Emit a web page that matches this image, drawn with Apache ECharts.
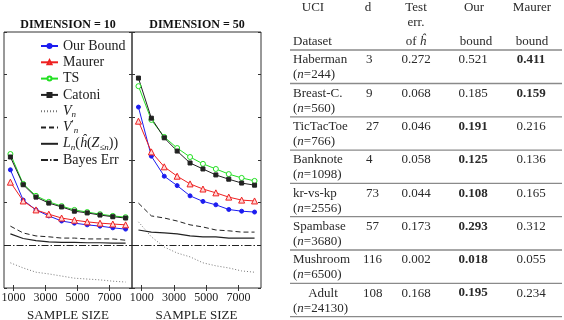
<!DOCTYPE html>
<html>
<head>
<meta charset="utf-8">
<script src="https://cdn.jsdelivr.net/npm/echarts@6/dist/echarts.min.js"></script>
<style>
  html, body { margin: 0; padding: 0; background: #fff; }
  #chart { width: 564px; height: 320px; }
</style>
</head>
<body>
<div id="chart"></div>
<script>
const sampleSizes = [800, 1600, 2400, 3200, 4000, 4800, 5600, 6400, 7200, 8000]
const xTicks = [1000, 3000, 5000, 7000]

// DIMENSION = 10
const ourBound10 = [2.77, 2.06, 1.83, 1.69, 1.57, 1.52, 1.48, 1.45, 1.41, 1.38]
const maurer10 = [2.48, 2.04, 1.83, 1.73, 1.64, 1.59, 1.55, 1.52, 1.50, 1.48]
const ts10 = [3.14, 2.44, 2.16, 2.02, 1.92, 1.83, 1.78, 1.73, 1.69, 1.66]
const catoni10 = [3.07, 2.42, 2.13, 1.99, 1.90, 1.80, 1.76, 1.71, 1.67, 1.64]
const vn10 = [0.59, 0.47, 0.37, 0.33, 0.28, 0.23, 0.21, 0.19, 0.16, 0.14]
const vnPrime10 = [1.45, 1.29, 1.22, 1.20, 1.17, 1.17, 1.15, 1.15, 1.15, 1.12]
const ln10 = [1.27, 1.16, 1.11, 1.08, 1.07, 1.07, 1.06, 1.06, 1.05, 1.05]
const bayes10 = 1.0

// DIMENSION = 50
const ourBound50 = [4.24, 3.09, 2.62, 2.40, 2.16, 2.03, 1.95, 1.84, 1.80, 1.78]
const maurer50 = [3.91, 3.19, 2.84, 2.62, 2.44, 2.32, 2.23, 2.13, 2.06, 2.04]
const ts50 = [4.73, 3.94, 3.54, 3.28, 3.07, 2.91, 2.79, 2.67, 2.58, 2.51]
const catoni50 = [4.92, 3.98, 3.52, 3.21, 2.93, 2.79, 2.65, 2.55, 2.46, 2.41]
const vn50 = [1.55, 1.20, 0.96, 0.82, 0.73, 0.59, 0.52, 0.47, 0.40, 0.37]
const vnPrime50 = [1.99, 1.69, 1.64, 1.57, 1.48, 1.43, 1.36, 1.34, 1.31, 1.31]
const ln50 = [1.36, 1.31, 1.29, 1.27, 1.22, 1.20, 1.20, 1.17, 1.17, 1.17]
const bayes50 = 1.0

// table
const datasets = ['Haberman', 'Breast-C.', 'TicTacToe', 'Banknote', 'kr-vs-kp', 'Spambase', 'Mushroom', 'Adult']
const sizes = [244, 560, 766, 1098, 2556, 3680, 6500, 24130]
const dims = [3, 9, 27, 4, 73, 57, 116, 108]
const testErr = ['0.272', '0.068', '0.046', '0.058', '0.044', '0.173', '0.002', '0.168']
const ourBoundTab = ['0.521', '0.185', '0.191', '0.125', '0.108', '0.293', '0.018', '0.195']
const maurerTab = ['0.411', '0.159', '0.216', '0.136', '0.165', '0.312', '0.055', '0.234']

const serif = '"Liberation Serif", "Times New Roman", "DejaVu Serif", serif'
const ink = '#222'
const tableInk = '#2a2a2a'
const clear = 'rgba(0,0,0,0)'

const styles = {
  'Our Bound': { color: '#1c1cf0', symbol: 'circle', symbolSize: 4, lineStyle: { color: '#1c1cf0', width: 1 } },
  'Maurer': { color: '#ffd6d6', borderColor: '#ee2020', symbol: 'triangle', symbolSize: 6, lineStyle: { color: '#ee2020', width: 1 } },
  'TS': { color: '#ffffff', borderColor: '#22e022', symbol: 'circle', symbolSize: 5, lineStyle: { color: '#22e022', width: 1 } },
  'Catoni': { color: '#222', symbol: 'rect', symbolSize: 4, lineStyle: { color: '#222', width: 1 } },
  'Vn': { symbol: 'none', lineStyle: { color: '#777', width: 1, type: [1, 2] } },
  "V'n": { symbol: 'none', lineStyle: { color: '#222', width: 1, type: [5, 3] } },
  'Ln': { symbol: 'none', lineStyle: { color: '#222', width: 1.2 } }
}

const pair = (ys) => sampleSizes.map((x, i) => [x, ys[i]])

function lineSeries(name, ys, g) {
  const s = styles[name]
  const noSym = s.symbol === 'none'
  return {
    type: 'line',
    name: name,
    xAxisIndex: g * 2,
    yAxisIndex: g * 2,
    data: pair(ys),
    symbol: s.symbol,
    symbolSize: s.symbolSize,
    showSymbol: !noSym,
    itemStyle: noSym
      ? { color: clear, borderColor: clear, borderWidth: 0, opacity: 0 }
      : { color: s.color, borderColor: s.borderColor || s.color, borderWidth: 1 },
    lineStyle: s.lineStyle,
    silent: true,
    animation: false
  }
}

function bayesSeries(value, g) {
  const ls = { color: '#222', width: 1, type: [7, 2, 1.5, 2] }
  return {
    type: 'line',
    name: 'Bayes Err',
    xAxisIndex: g * 2,
    yAxisIndex: g * 2,
    data: [],
    symbol: 'none',
    itemStyle: { color: clear, borderColor: clear, borderWidth: 0, opacity: 0 },
    lineStyle: ls,
    markLine: {
      silent: true,
      symbol: 'none',
      label: { show: false },
      lineStyle: ls,
      data: [{ yAxis: value }]
    },
    animation: false
  }
}

const panels = [
  [ourBound10, maurer10, ts10, catoni10, vn10, vnPrime10, ln10, bayes10],
  [ourBound50, maurer50, ts50, catoni50, vn50, vnPrime50, ln50, bayes50]
]
const names = ['Our Bound', 'Maurer', 'TS', 'Catoni', 'Vn', "V'n", 'Ln']

const series = []
panels.forEach((p, g) => {
  names.forEach((n, k) => series.push(lineSeries(n, p[k], g)))
  series.push(bayesSeries(p[7], g))
})

const grids = [
  { left: 4, top: 32, width: 128, height: 256 },
  { left: 132, top: 32, width: 129, height: 256 }
]

const xAxes = []
const yAxes = []
grids.forEach((gr, g) => {
  xAxes.push({
    gridIndex: g, type: 'value', min: 400, max: 8400, position: 'bottom',
    axisLine: { show: false }, splitLine: { show: false },
    axisTick: { inside: true, length: 3, customValues: xTicks, lineStyle: { color: '#333' } },
    axisLabel: { customValues: xTicks, formatter: (v) => String(v), fontFamily: serif, fontSize: 12, color: ink, margin: 4 },
    name: 'SAMPLE SIZE', nameLocation: 'middle', nameGap: 18,
    nameTextStyle: { fontFamily: serif, fontSize: 13, color: ink }
  })
  xAxes.push({
    gridIndex: g, type: 'value', min: 400, max: 8400, position: 'top',
    axisLine: { show: false }, splitLine: { show: false }, axisLabel: { show: false },
    axisTick: { inside: true, length: 3, customValues: xTicks, lineStyle: { color: '#333' } }
  })
  ;['left', 'right'].forEach((pos) => {
    yAxes.push({
      gridIndex: g, type: 'value', min: 0, max: 6, interval: 1, position: pos,
      axisLine: { show: false }, splitLine: { show: false }, axisLabel: { show: false },
      axisTick: { inside: true, length: 3, lineStyle: { color: '#333' } }
    })
  })
})

// legend text with sub/superscripts
const legendText = {
  'Vn': '{it|V}{sub|n}',
  "V'n": '{it|V}{sup|′}{sub|n}',
  'Ln': '{it|L}{sub|n}{rm|(}{it|ĥ}{rm|(}{it|Z}{sub|≤n}{rm|))}'
}
const legendData = names.concat(['Bayes Err']).map((n) => {
  return styles[n] && styles[n].symbol !== 'none'
    ? { name: n }
    : { name: n, itemStyle: { color: clear, borderColor: clear, opacity: 0 } }
})

// table built as graphic text
const graphics = []
function txt(x, y, text, align, bold, extra) {
  const style = {
    text: text, x: x, y: y, fontFamily: serif, fontSize: 13,
    fontWeight: bold ? 'bold' : 'normal', fill: tableInk,
    align: align, verticalAlign: 'middle', textAlign: align, textVerticalAlign: 'middle'
  }
  if (extra) style.rich = extra
  graphics.push({ type: 'text', silent: true, style: style })
}
const italic = { i: { fontStyle: 'italic', fontFamily: serif, fontSize: 13, fill: tableInk } }
function rule(y) {
  graphics.push({ type: 'line', silent: true, shape: { x1: 290, y1: y, x2: 562, y2: y }, style: { stroke: '#8a8a8a', lineWidth: 1.3 } })
}

txt(313, 8, 'UCI', 'center')
txt(293, 42, 'Dataset', 'left')
txt(368, 8, 'd', 'center')
txt(416, 8, 'Test', 'center')
txt(416, 23, 'err.', 'center')
txt(416, 42, 'of {i|ĥ}', 'center', false, italic)
txt(474, 8, 'Our', 'center')
txt(476, 42, 'bound', 'center')
txt(532, 8, 'Maurer', 'center')
txt(532, 42, 'bound', 'center')
rule(50)

datasets.forEach((d, i) => {
  const y = 60 + 33.3 * i
  const ours = parseFloat(ourBoundTab[i]) < parseFloat(maurerTab[i])
  if (d === 'Adult') txt(323, y, d, 'center')
  else txt(293, y, d, 'left')
  txt(293, y + 15, '({i|n}=' + sizes[i] + ')', 'left', false, italic)
  txt(dims[i] > 99 ? 363 : 366, y, String(dims[i]), 'left')
  txt(416, y, testErr[i], 'center')
  txt(473, y, ourBoundTab[i], 'center', ours)
  txt(531, y, maurerTab[i], 'center', !ours)
  rule(y + 23.5)
})

const myChart = echarts.init(document.getElementById('chart'), null, { renderer: 'canvas' })
myChart.setOption({
  backgroundColor: '#fff',
  animation: false,
  title: [
    { text: 'DIMENSION = 10', left: 63, top: 14, textAlign: 'center', textStyle: { fontFamily: serif, fontWeight: 'bold', fontSize: 12, color: '#111' } },
    { text: 'DIMENSION = 50', left: 192, top: 14, textAlign: 'center', textStyle: { fontFamily: serif, fontWeight: 'bold', fontSize: 12, color: '#111' } }
  ],
  legend: {
    data: legendData,
    orient: 'vertical',
    left: 40,
    top: 38,
    padding: 0,
    itemWidth: 17,
    itemHeight: 5,
    itemGap: 0.3,
    selectedMode: false,
    formatter: (name) => legendText[name] || name,
    textStyle: {
      fontFamily: serif, fontSize: 14, color: ink, lineHeight: 16,
      rich: {
        it: { fontStyle: 'italic', fontFamily: serif, fontSize: 14, color: ink, lineHeight: 16 },
        rm: { fontFamily: serif, fontSize: 14, color: ink, lineHeight: 16 },
        sub: { fontStyle: 'italic', fontFamily: serif, fontSize: 9, color: ink, lineHeight: 10, verticalAlign: 'bottom' },
        sup: { fontFamily: serif, fontSize: 10, color: ink, lineHeight: 10, verticalAlign: 'top' }
      }
    }
  },
  grid: grids.map((g) => Object.assign({ show: true, borderColor: '#333', borderWidth: 1, backgroundColor: 'transparent', outerBoundsMode: 'none', containLabel: false }, g)),
  xAxis: xAxes,
  yAxis: yAxes,
  series: series,
  graphic: graphics
})
</script>
</body>
</html>
